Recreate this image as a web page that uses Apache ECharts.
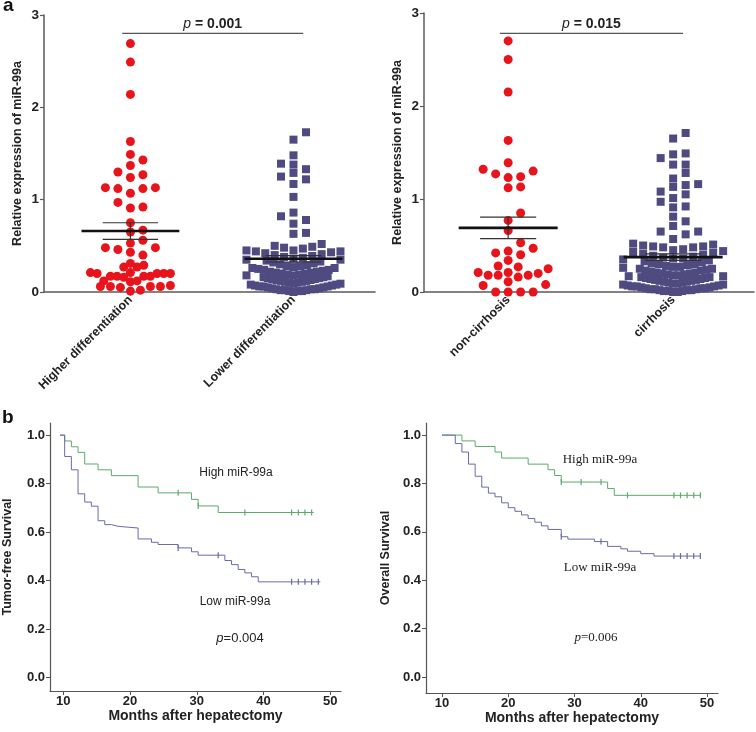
<!DOCTYPE html>
<html>
<head>
<meta charset="utf-8">
<script src="https://cdn.jsdelivr.net/npm/echarts@6/dist/echarts.min.js"></script>
<style>html,body{margin:0;padding:0;background:#fff}#c{width:756px;height:732px}</style>
</head>
<body>
<div id="c"></div>
<script>
// ---------- DATA ----------
const catA = ['Higher differentiation', 'Lower differentiation'];
const catB = ['non-cirrhosis', 'cirrhosis'];
const scatterYTicks = [0, 1, 2, 3];

const higherDiff = [2.69, 2.49, 2.14, 1.63, 1.49, 1.43, 1.37, 1.30, 1.27, 1.24, 1.13, 1.13, 1.12, 1.12, 1.07, 0.97, 0.92, 0.91,
  0.75, 0.67, 0.65, 0.56, 0.53, 0.48, 0.48, 0.46, 0.43, 0.40, 0.31, 0.29, 0.27, 0.27,
  0.21, 0.20, 0.20, 0.20, 0.21, 0.20, 0.17, 0.17, 0.16, 0.17, 0.17, 0.12, 0.12, 0.11,
  0.06, 0.06, 0.07, 0.06, 0.06, 0.05, 0.02, 0.01];
const lowerDiff = [1.73, 1.65, 1.48, 1.39, 1.38, 1.33, 1.29, 1.25, 1.22, 1.17, 1.03, 0.86, 0.82, 0.78, 0.74, 0.64, 0.63,
  0.52, 0.50, 0.49, 0.48, 0.47, 0.45, 0.44,
  0.45, 0.44, 0.43, 0.42, 0.41, 0.40, 0.39, 0.38,
  0.37, 0.36, 0.35, 0.35, 0.34, 0.33, 0.32, 0.31, 0.30,
  0.29, 0.28, 0.28, 0.27, 0.26, 0.26, 0.25, 0.24, 0.24, 0.23,
  0.22, 0.22, 0.21, 0.21, 0.20, 0.20, 0.19, 0.19, 0.18, 0.18, 0.17,
  0.16, 0.16, 0.15, 0.15, 0.14, 0.14, 0.13, 0.13, 0.12, 0.12, 0.11, 0.11,
  0.10, 0.10, 0.09, 0.09, 0.08, 0.08, 0.07, 0.07, 0.06, 0.06, 0.06, 0.05,
  0.05, 0.04, 0.04, 0.03, 0.03, 0.03, 0.02, 0.02, 0.02, 0.01, 0.01, 0.01, 0.00];
const nonCirrhosis = [2.70, 2.50, 2.15, 1.63, 1.39, 1.32, 1.30, 1.27, 1.24, 1.23, 1.13, 1.12,
  0.85, 0.77, 0.66, 0.53, 0.47, 0.44, 0.42, 0.40, 0.34, 0.28, 0.27, 0.25,
  0.21, 0.18, 0.18, 0.16, 0.18, 0.20, 0.21, 0.11, 0.07, 0.08, 0.00, 0.00, 0.00, 0.00];
const cirrhosis = [1.71, 1.65, 1.49, 1.48, 1.44, 1.37, 1.37, 1.28, 1.22, 1.16, 1.15, 1.13, 1.08, 1.05, 1.01, 0.97,
  0.92, 0.91, 0.81, 0.76, 0.71, 0.65, 0.65, 0.62, 0.57,
  0.52, 0.50, 0.49, 0.48, 0.48, 0.49, 0.51,
  0.46, 0.45, 0.44, 0.43, 0.42, 0.41, 0.40, 0.39, 0.38,
  0.37, 0.36, 0.36, 0.35, 0.34, 0.33, 0.32, 0.31, 0.30, 0.30,
  0.29, 0.28, 0.27, 0.27, 0.26, 0.25, 0.25, 0.24, 0.23, 0.23, 0.22,
  0.21, 0.21, 0.20, 0.20, 0.19, 0.19, 0.18, 0.18, 0.17, 0.17, 0.16, 0.16,
  0.15, 0.15, 0.14, 0.14, 0.13, 0.13, 0.12, 0.12, 0.11, 0.11, 0.10, 0.10,
  0.09, 0.09, 0.08, 0.08, 0.07, 0.07, 0.06, 0.06, 0.06, 0.05, 0.05, 0.04, 0.04,
  0.04, 0.03, 0.03, 0.03, 0.02, 0.02, 0.02, 0.01, 0.01, 0.01, 0.00, 0.00];

const meanA = [0.66, 0.36];
const semA = [0.09, 0.035];
const meanB = [0.69, 0.375];
const semB = [0.115, 0.035];
const pValueA = '0.001';
const pValueB = '0.015';
const bracketYA = 2.80;
const bracketYB = 2.78;

const kmXTicks = [10, 20, 30, 40, 50];
const kmYTicks = [0, 0.2, 0.4, 0.6, 0.8, 1.0];

// Tumor-free survival (time in months, survival)
const tfsHigh = [[9.5, 1], [10.2, 0.976], [11.2, 0.952], [12.2, 0.929], [13.2, 0.881], [15.2, 0.857], [17.2, 0.833],
  [21.2, 0.786], [24.2, 0.762], [29.2, 0.735], [30.2, 0.708], [33.2, 0.681], [47.5, 0.681]];
const tfsHighCensor = [27.2, 30.2, 37.2, 44.2, 45.2, 46.2, 47.2];
const tfsLow = [[9.5, 1], [10.2, 0.912], [11.2, 0.857], [12.2, 0.758], [13.2, 0.724], [14.2, 0.707], [15.2, 0.647],
  [16.2, 0.631], [17.2, 0.624], [18.2, 0.617], [21.2, 0.572], [23.2, 0.558], [24.2, 0.549], [27.2, 0.535],
  [29.2, 0.519], [30.2, 0.505], [34.2, 0.483], [35.2, 0.466], [36.2, 0.446], [37.2, 0.432], [38.2, 0.416],
  [39.2, 0.395], [48.5, 0.395]];
const tfsLowCensor = [27.2, 33.2, 44.2, 45.2, 46.2, 47.2, 48.2];
// Overall survival
const osHigh = [[10, 1], [13, 0.976], [15, 0.953], [18, 0.93], [19, 0.905], [23, 0.88], [26, 0.857], [27, 0.833],
  [28, 0.806], [35, 0.779], [36, 0.751], [49.1, 0.751]];
const osHighCensor = [28, 31, 34, 38, 45, 46, 47, 48, 49];
const osLow = [[10, 1], [12, 0.965], [13, 0.93], [14, 0.88], [15, 0.83], [16, 0.785], [17, 0.76], [18, 0.745],
  [19, 0.72], [20, 0.70], [21, 0.685], [22, 0.67], [23, 0.655], [24, 0.64], [25, 0.625], [26, 0.61], [28, 0.58],
  [29, 0.57], [33, 0.56], [35, 0.54], [37, 0.53], [38, 0.52], [40, 0.51], [42, 0.50], [49.1, 0.50]];
const osLowCensor = [28, 34, 45, 46, 47, 48, 49];

// ---------- HELPERS ----------
const SANS = '"Liberation Sans", Arial, sans-serif';
const SERIF = '"Liberation Serif", "Times New Roman", serif';
const RED = '#e8141c', PURPLE = '#4f4a80', GREEN = '#5ea96e', BLUE = '#6a6aa8';

// Column-scatter layout: points that are vertically closer than dy must be at least dx apart
// horizontally; crowded bands are then squeezed to fit within +-wmax (like a column dot plot).
function swarmOffsets(values, pxPerY, dx, dy, wmax) {
  const ys = values.map(v => v * pxPerY);
  const idx = values.map((v, i) => i).sort((a, b) => values[a] - values[b]);
  const placed = [];
  const off = new Array(values.length).fill(0);
  idx.forEach(i => {
    const y = ys[i];
    const blocks = [];
    placed.forEach(p => { if (Math.abs(p.y - y) < dy) blocks.push([p.x - dx, p.x + dx]); });
    const cands = [0];
    blocks.forEach(b => cands.push(b[0], b[1]));
    cands.sort((a, b) => (Math.abs(a) - Math.abs(b)) || (b - a));
    let x = 0;
    for (const c of cands) {
      if (blocks.every(b => c <= b[0] + 1e-6 || c >= b[1] - 1e-6)) { x = c; break; }
    }
    placed.push({ x, y });
    off[i] = x;
  });
  return off.map((o, i) => {
    let m = 0;
    for (let j = 0; j < off.length; j++) if (Math.abs(ys[j] - ys[i]) < dy) m = Math.max(m, Math.abs(off[j]));
    return m > wmax ? o * wmax / m : o;
  });
}
function swarmData(values, cat, pxPerX, pxPerY, dx, dy, wmax) {
  const off = swarmOffsets(values, pxPerY, dx, dy, wmax);
  return values.map((v, i) => [cat + off[i] / pxPerX, v]);
}
function survAt(curve, t) {
  let s = curve[0][1];
  for (const p of curve) { if (p[0] <= t + 1e-9) s = p[1]; }
  return s;
}
function censorData(curve, times) { return times.map(t => [t, survAt(curve, t)]); }

// ---------- LAYOUT ----------
const G = [
  { left: 44, top: 15, width: 331, height: 277 },
  { left: 424, top: 13, width: 330, height: 279 },
  { left: 50, top: 423, width: 291, height: 268 },
  { left: 426, top: 423, width: 292, height: 270 }
];
const sx = [[0.47, 2.5], [0.49, 2.49]];
const pxX0 = G[0].width / (sx[0][1] - sx[0][0]);
const pxX1 = G[1].width / (sx[1][1] - sx[1][0]);
const pxY0 = G[0].height / 3;
const pxY1 = G[1].height / 3;

function scatterXAxis(gi, range, cats) {
  return {
    type: 'value', gridIndex: gi, min: range[0], max: range[1],
    splitLine: { show: false },
    axisLine: { show: true, onZero: false, lineStyle: { color: '#5a5a5a', width: 1.5 } },
    axisTick: { show: true, customValues: [1, 2], length: 4, lineStyle: { color: '#5a5a5a', width: 1.2 } },
    axisLabel: {
      customValues: [1, 2], formatter: v => cats[Math.round(v) - 1], rotate: 45, margin: 6,
      color: '#222', fontFamily: SANS, fontWeight: 'bold', fontSize: 12.5
    }
  };
}
function scatterYAxis(gi) {
  return {
    type: 'value', gridIndex: gi, min: 0, max: 3, interval: 1,
    splitLine: { show: false },
    axisLine: { show: true, lineStyle: { color: '#5a5a5a', width: 1.5 } },
    axisTick: { show: true, length: 4, lineStyle: { color: '#5a5a5a', width: 1.2 } },
    axisLabel: { color: '#222', fontFamily: SANS, fontWeight: 'bold', fontSize: 13.5, margin: 5,
      customValues: scatterYTicks },
    name: 'Relative expression of miR-99a', nameLocation: 'middle', nameGap: 20, nameMoveOverlap: false,
    nameTextStyle: { color: '#222', fontFamily: SANS, fontWeight: 'bold', fontSize: 12.5 }
  };
}
function kmXAxis(gi, min, max) {
  return {
    type: 'value', gridIndex: gi, min, max,
    splitLine: { show: false },
    axisLine: { show: true, onZero: false, lineStyle: { color: '#555', width: 1.2 } },
    axisTick: { show: true, customValues: kmXTicks, length: 4, lineStyle: { color: '#555' } },
    axisLabel: { customValues: kmXTicks, color: '#222', fontFamily: SANS, fontWeight: 'bold', fontSize: 13, margin: 4 },
    name: 'Months after hepatectomy', nameLocation: 'middle', nameGap: 18, nameMoveOverlap: false,
    nameTextStyle: { color: '#222', fontFamily: SANS, fontWeight: 'bold', fontSize: 14 }
  };
}
function kmYAxis(gi, min, name, gap) {
  return {
    type: 'value', gridIndex: gi, min, max: 1.05,
    splitLine: { show: false },
    axisLine: { show: true, onZero: false, lineStyle: { color: '#555', width: 1.2 } },
    axisTick: { show: true, customValues: kmYTicks, length: 4, lineStyle: { color: '#555' } },
    axisLabel: { customValues: kmYTicks, formatter: v => v.toFixed(1), color: '#222', fontFamily: SANS,
      fontWeight: 'bold', fontSize: 13, margin: 5 },
    name, nameLocation: 'middle', nameGap: gap, nameMoveOverlap: false,
    nameTextStyle: { color: '#222', fontFamily: SANS, fontWeight: 'bold', fontSize: 12.5 }
  };
}

function errorRender(params, api) {
  const x = api.value(0), m = api.value(1), s = api.value(2);
  const c = api.coord([x, m]), t = api.coord([x, m + s]), b = api.coord([x, m - s]);
  const w = api.size([1, 0])[0];
  const hw = 0.30 * w, hs = 0.17 * w;
  return {
    type: 'group', children: [
      { type: 'line', shape: { x1: c[0], y1: t[1], x2: c[0], y2: b[1] }, style: { stroke: '#333', lineWidth: 1.2 } },
      { type: 'line', shape: { x1: t[0] - hs, y1: t[1], x2: t[0] + hs, y2: t[1] }, style: { stroke: '#333', lineWidth: 1.2 } },
      { type: 'line', shape: { x1: b[0] - hs, y1: b[1], x2: b[0] + hs, y2: b[1] }, style: { stroke: '#333', lineWidth: 1.2 } },
      { type: 'line', shape: { x1: c[0] - hw, y1: c[1], x2: c[0] + hw, y2: c[1] }, style: { stroke: '#111', lineWidth: 2.6 } }
    ]
  };
}
function bracketRender(pv) {
  return function (params, api) {
    const a = api.coord([api.value(0) - 0.05, api.value(2)]);
    const b = api.coord([api.value(1) + 0.06, api.value(2)]);
    return {
      type: 'group', children: [
        { type: 'line', shape: { x1: a[0], y1: a[1], x2: b[0], y2: b[1] }, style: { stroke: '#555', lineWidth: 1.2 } },
        { type: 'text', x: (a[0] + b[0]) / 2, y: a[1] - 2,
          style: { text: '{i|p} = ' + pv, align: 'center', verticalAlign: 'bottom', fill: '#222',
            fontFamily: SANS, fontWeight: 'bold', fontSize: 14,
            rich: { i: { fontStyle: 'italic', fontWeight: 'normal', fontFamily: SANS, fontSize: 14, fill: '#222' } } } }
      ]
    };
  };
}

const option = {
  animation: false,
  backgroundColor: '#fff',
  grid: G.map(g => Object.assign({ outerBoundsMode: 'none', containLabel: false }, g)),
  xAxis: [scatterXAxis(0, sx[0], catA), scatterXAxis(1, sx[1], catB), kmXAxis(2, 8.0, 51.6), kmXAxis(3, 7.58, 51.66)],
  yAxis: [scatterYAxis(0), scatterYAxis(1),
    kmYAxis(2, -0.055, 'Tumor-free Survival', 36), kmYAxis(3, -0.066, 'Overall Survival', 34)],
  series: [
    { type: 'scatter', xAxisIndex: 0, yAxisIndex: 0, clip: false, symbol: 'circle', symbolSize: 9,
      itemStyle: { color: RED, opacity: 1 }, data: swarmData(higherDiff, 1, pxX0, pxY0, 12.5, 8.5, 40) },
    { type: 'scatter', xAxisIndex: 0, yAxisIndex: 0, clip: false, symbol: 'rect', symbolSize: 8,
      itemStyle: { color: PURPLE, opacity: 1 }, data: swarmData(lowerDiff, 2, pxX0, pxY0, 12.5, 8, 47) },
    { type: 'scatter', xAxisIndex: 1, yAxisIndex: 1, clip: false, symbol: 'circle', symbolSize: 9,
      itemStyle: { color: RED, opacity: 1 }, data: swarmData(nonCirrhosis, 1, pxX1, pxY1, 12.5, 8.5, 40) },
    { type: 'scatter', xAxisIndex: 1, yAxisIndex: 1, clip: false, symbol: 'rect', symbolSize: 8,
      itemStyle: { color: PURPLE, opacity: 1 }, data: swarmData(cirrhosis, 2, pxX1, pxY1, 12.5, 8, 50) },
    { type: 'custom', xAxisIndex: 0, yAxisIndex: 0, z: 10, renderItem: errorRender, clip: false,
      data: meanA.map((m, i) => [i + 1, m, semA[i]]) },
    { type: 'custom', xAxisIndex: 1, yAxisIndex: 1, z: 10, renderItem: errorRender, clip: false,
      data: meanB.map((m, i) => [i + 1, m, semB[i]]) },
    { type: 'custom', xAxisIndex: 0, yAxisIndex: 0, z: 10, renderItem: bracketRender(pValueA), clip: false,
      data: [[1, 2, bracketYA]] },
    { type: 'custom', xAxisIndex: 1, yAxisIndex: 1, z: 10, renderItem: bracketRender(pValueB), clip: false,
      data: [[1, 2, bracketYB]] },
    // Kaplan-Meier
    { type: 'line', xAxisIndex: 2, yAxisIndex: 2, step: 'end', showSymbol: false, data: tfsHigh,
      lineStyle: { color: GREEN, width: 1 }, itemStyle: { color: GREEN } },
    { type: 'line', xAxisIndex: 2, yAxisIndex: 2, step: 'end', showSymbol: false, data: tfsLow,
      lineStyle: { color: BLUE, width: 1 }, itemStyle: { color: BLUE } },
    { type: 'scatter', xAxisIndex: 2, yAxisIndex: 2, symbol: 'rect', symbolSize: [1.2, 6], z: 5,
      itemStyle: { color: GREEN, opacity: 1 }, data: censorData(tfsHigh, tfsHighCensor) },
    { type: 'scatter', xAxisIndex: 2, yAxisIndex: 2, symbol: 'rect', symbolSize: [1.2, 6], z: 5,
      itemStyle: { color: BLUE, opacity: 1 }, data: censorData(tfsLow, tfsLowCensor) },
    { type: 'line', xAxisIndex: 3, yAxisIndex: 3, step: 'end', showSymbol: false, data: osHigh,
      lineStyle: { color: GREEN, width: 1 }, itemStyle: { color: GREEN } },
    { type: 'line', xAxisIndex: 3, yAxisIndex: 3, step: 'end', showSymbol: false, data: osLow,
      lineStyle: { color: BLUE, width: 1 }, itemStyle: { color: BLUE } },
    { type: 'scatter', xAxisIndex: 3, yAxisIndex: 3, symbol: 'rect', symbolSize: [1.2, 6], z: 5,
      itemStyle: { color: GREEN, opacity: 1 }, data: censorData(osHigh, osHighCensor) },
    { type: 'scatter', xAxisIndex: 3, yAxisIndex: 3, symbol: 'rect', symbolSize: [1.2, 6], z: 5,
      itemStyle: { color: BLUE, opacity: 1 }, data: censorData(osLow, osLowCensor) }
  ],
  graphic: [
    { type: 'text', style: { x: 3, y: 6, text: 'a', font: 'bold 19px ' + SANS, fill: '#111', verticalAlign: 'middle' } },
    { type: 'text', style: { x: 2, y: 418, text: 'b', font: 'bold 19px ' + SANS, fill: '#111', verticalAlign: 'middle' } },
    { type: 'text', style: { x: 236, y: 473, text: 'High miR-99a', font: '12px ' + SANS, fill: '#222', align: 'center', verticalAlign: 'middle' } },
    { type: 'text', style: { x: 235, y: 602, text: 'Low miR-99a', font: '12px ' + SANS, fill: '#222', align: 'center', verticalAlign: 'middle' } },
    { type: 'text', style: { x: 240, y: 638, text: '{i|p}=0.004', font: '13px ' + SANS, fill: '#222', align: 'center', verticalAlign: 'middle',
      rich: { i: { fontStyle: 'italic', fontSize: 13, fontFamily: SANS, fill: '#222' } } } },
    { type: 'text', style: { x: 600, y: 460, text: 'High miR-99a', font: '13px ' + SERIF, fill: '#222', align: 'center', verticalAlign: 'middle' } },
    { type: 'text', style: { x: 600, y: 568, text: 'Low miR-99a', font: '13px ' + SERIF, fill: '#222', align: 'center', verticalAlign: 'middle' } },
    { type: 'text', style: { x: 596, y: 638, text: '{i|p}=0.006', font: '13px ' + SERIF, fill: '#222', align: 'center', verticalAlign: 'middle',
      rich: { i: { fontStyle: 'italic', fontSize: 13, fontFamily: SERIF, fill: '#222' } } } }
  ]
};

const chart = echarts.init(document.getElementById('c'), null, { renderer: 'canvas' });
chart.setOption(option);
</script>
</body>
</html>
